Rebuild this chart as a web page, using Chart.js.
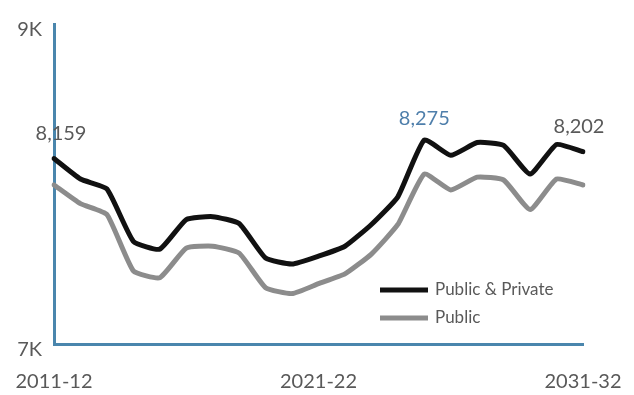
<!DOCTYPE html>
<html>
<head>
<meta charset="utf-8">
<script src="https://cdn.jsdelivr.net/npm/chart.js@4"></script>
<style>
  html, body { margin: 0; padding: 0; background: #fff; }
  #wrap { width: 634px; height: 395px; position: relative; }
</style>
</head>
<body>
<div id="wrap"><canvas id="chart"></canvas></div>
<script>
// Years 2011-12 .. 2031-32
const years = ['2011-12', '2012-13', '2013-14', '2014-15', '2015-16', '2016-17', '2017-18',
  '2018-19', '2019-20', '2020-21', '2021-22', '2022-23', '2023-24', '2024-25', '2025-26',
  '2026-27', '2027-28', '2028-29', '2029-30', '2030-31', '2031-32'];

const publicPrivate = [8159, 8031, 7969, 7642, 7593, 7778, 7796, 7753, 7537, 7500, 7549,
  7611, 7747, 7920, 8275, 8179, 8259, 8241, 8062, 8247, 8202];

const publicOnly = [7994, 7877, 7809, 7457, 7414, 7599, 7611, 7568, 7352, 7315, 7377,
  7438, 7562, 7747, 8062, 7963, 8043, 8025, 7840, 8031, 7994];

const shownTicks = ['2011-12', '2021-22', '2031-32'];
const yTicks = [7000, 9000];

// points that get a value label
const labelPoints = [0, 14, 20];
const labelColors = ['#595959', '#4f7fab', '#595959'];

const axisColor = '#4a86ad';
const textColor = '#595959';
const fontFamily = 'Lato, "Open Sans", sans-serif';


// value labels above chosen points of the first series
const valueLabels = {
  id: 'valueLabels',
  afterDatasetsDraw(chart) {
    const ctx = chart.ctx;
    const meta = chart.getDatasetMeta(0);
    ctx.save();
    ctx.font = '20px ' + fontFamily;
    ctx.textAlign = 'center';
    ctx.textBaseline = 'middle';
    labelPoints.forEach((idx, k) => {
      const pt = meta.data[idx];
      const v = publicPrivate[idx].toLocaleString('en-US');
      ctx.fillStyle = labelColors[k];
      let x = pt.x;
      if (idx === 0) x += 7;
      if (idx === years.length - 1) x -= 4;
      const dy = idx === 14 ? 21 : 25;
      ctx.fillText(v, x, pt.y - dy);
    });
    ctx.restore();
  }
};


// small legend inside the plot, lower right
const lineLegend = {
  id: 'lineLegend',
  afterDraw(chart) {
    const ctx = chart.ctx;
    ctx.save();
    ctx.font = '17px ' + fontFamily;
    ctx.textBaseline = 'middle';
    chart.data.datasets.forEach((ds, i) => {
      const y = 290 + i * 28;
      ctx.strokeStyle = ds.borderColor;
      ctx.lineWidth = 5;
      ctx.beginPath();
      ctx.moveTo(380, y);
      ctx.lineTo(428, y);
      ctx.stroke();
      ctx.fillStyle = textColor;
      ctx.fillText(ds.label, 435, y);
    });
    ctx.restore();
  }
};


const chart = new Chart(document.getElementById('chart'), {
  type: 'line',
  data: {
    labels: years,
    datasets: [{
      label: 'Public & Private',
      data: publicPrivate,
      borderColor: '#111111',
      borderWidth: 5,
      pointRadius: 0,
      tension: 0.15,
      borderJoinStyle: 'round',
      borderCapStyle: 'round'
    }, {
      label: 'Public',
      data: publicOnly,
      borderColor: '#8c8c8c',
      borderWidth: 5,
      pointRadius: 0,
      tension: 0.15,
      borderJoinStyle: 'round',
      borderCapStyle: 'round'
    }]
  },
  options: {
    responsive: true,
    maintainAspectRatio: false,
    animation: false,
    layout: { padding: { top: 20, right: 51, left: 0, bottom: 0 } },
    plugins: {
      legend: { display: false },
      tooltip: { enabled: false }
    },
    scales: {
      x: {
        // grid hidden, tick length kept as gap under the axis
        grid: { display: false, drawTicks: true, tickLength: 26 },
        border: { color: axisColor, width: 3 },
        ticks: {
          autoSkip: false,
          maxRotation: 0,
          padding: 0,
          color: textColor,
          font: { family: fontFamily, size: 20 },
          callback(value) {
            const lab = this.getLabelForValue(value);
            return shownTicks.includes(lab) ? lab : '';
          }
        },
        afterFit(scale) { scale.height = 51; }
      },
      y: {
        min: 7000,
        max: 9000,
        grid: { display: false, drawTicks: false },
        border: { color: axisColor, width: 3 },
        afterBuildTicks(scale) {
          scale.ticks = yTicks.map(v => ({ value: v }));
        },
        ticks: {
          padding: 12,
          labelOffset: 6,
          color: textColor,
          font: { family: fontFamily, size: 20 },
          callback(value) { return (value / 1000) + 'K'; }
        },
        afterFit(scale) { scale.width = 54; }
      }
    }
  },
  plugins: [valueLabels, lineLegend]
});
</script>
</body>
</html>
